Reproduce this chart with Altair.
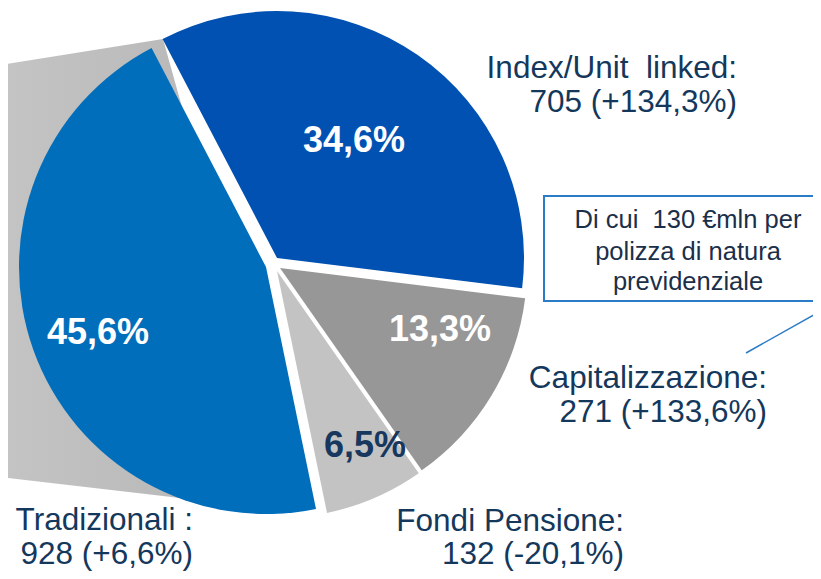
import altair as alt
import pandas as pd

# ---------------- data ----------------
categories = ["Index/Unit linked", "Capitalizzazione", "Fondi Pensione", "Tradizionali"]
values = [705, 271, 132, 928]
growth = ["+134,3%", "+133,6%", "-20,1%", "+6,6%"]
pct_labels = ["34,6%", "13,3%", "6,5%", "45,6%"]
name_labels = ["Index/Unit\u00a0 linked:", "Capitalizzazione:", "Fondi Pensione:", "Tradizionali :"]
slice_colors = ["#0051B2", "#979797", "#C3C3C3", "#006EBA"]
pct_colors = ["#FFFFFF", "#FFFFFF", "#17375E", "#FFFFFF"]
note_lines = ["Di cui\u00a0 130 \u20acmln per", "polizza di natura", "previdenziale"]

# ---------------- layout (pixels of the 821x579 picture) ----------------
W, H = 805, 563
CX, CY, R = 271, 264, 247
START = 332.4 * 3.141592653589793 / 180
explode_dx = [6, 9, 6, -5]
explode_dy = [-6, 4, 7, 3]
pct_x = [354, 440, 365, 98]
pct_y = [152, 341, 457, 344]
name_x = [737, 767, 624, 193]
name_y1 = [78, 388, 531, 530]
name_y2 = [112, 422, 564, 564]
shade_x = [0, 163, 295]
shade_top = [65, 39, 512]
shade_bot = [477, 496, 512]
note_box = dict(x=544, x2=835, y=196, y2=301)
note_cx = 688
note_y = [228, 260, 290]
conn = dict(x=746, y=353, x2=835, y2=303)

TEXT = "#14385C"
FONT = "Liberation Sans"

xs = alt.Scale(domain=[8, 8 + W], range=[0, W])
ys = alt.Scale(domain=[8, 8 + H], range=[0, H])

pie_df = pd.DataFrame({
    "order": list(range(len(categories))),
    "cat": categories,
    "value": values,
    "dx": explode_dx,
    "dy": explode_dy,
    "color": slice_colors,
})

slices = (
    alt.Chart(pie_df)
    .transform_joinaggregate(total="sum(value)")
    .transform_window(cum="sum(value)", sort=[alt.SortField("order")], frame=[None, 0])
    .transform_calculate(
        a1=f"{START} + 2*PI*datum.cum/datum.total",
    )
    .transform_calculate(
        a0="datum.a1 - 2*PI*datum.value/datum.total",
        cx=f"{CX} + datum.dx",
        cy=f"{CY} + datum.dy",
    )
    .mark_arc(outerRadius=R, stroke=None)
    .encode(
        theta=alt.Theta("a0:Q", scale=None),
        theta2=alt.Theta2("a1:Q"),
        x=alt.X("cx:Q", scale=xs, axis=None),
        y=alt.Y("cy:Q", scale=ys, axis=None),
        color=alt.Color("color:N", scale=None, legend=None),
    )
)

shade_df = pd.DataFrame({"x": shade_x, "top": shade_top, "bot": shade_bot})
shade = alt.Chart(shade_df).mark_area(
    color=alt.Gradient(
        gradient="linear",
        stops=[alt.GradientStop(color="#C4C4C4", offset=0),
               alt.GradientStop(color="#B3B3B3", offset=1)],
        x1=0, x2=1, y1=0, y2=0,
    ),
    interpolate="linear",
).encode(
    x=alt.X("x:Q", scale=xs, axis=None),
    y=alt.Y("top:Q", scale=ys, axis=None),
    y2="bot:Q",
)

pct_df = pd.DataFrame({"t": pct_labels, "x": pct_x, "y": pct_y, "c": pct_colors})
pct = alt.Chart(pct_df).mark_text(
    font=FONT, fontSize=36, fontWeight="bold", align="center", baseline="alphabetic"
).encode(
    x=alt.X("x:Q", scale=xs, axis=None),
    y=alt.Y("y:Q", scale=ys, axis=None),
    text="t:N",
    color=alt.Color("c:N", scale=None, legend=None),
)

line2 = [f"{v} ({g})" for v, g in zip(values, growth)]
name_df = pd.DataFrame({
    "t": name_labels + line2,
    "x": name_x + name_x,
    "y": name_y1 + name_y2,
})
names = alt.Chart(name_df).mark_text(
    font=FONT, fontSize=31.5, align="right", baseline="alphabetic", color=TEXT
).encode(
    x=alt.X("x:Q", scale=xs, axis=None),
    y=alt.Y("y:Q", scale=ys, axis=None),
    text="t:N",
)

box = alt.Chart(pd.DataFrame([note_box])).mark_rect(
    fill=None, filled=False, stroke="#2A7CC6", strokeWidth=2
).encode(
    x=alt.X("x:Q", scale=xs, axis=None), x2="x2:Q",
    y=alt.Y("y:Q", scale=ys, axis=None), y2="y2:Q",
)

note_df = pd.DataFrame({"t": note_lines, "x": [note_cx] * 3, "y": note_y})
note = alt.Chart(note_df).mark_text(
    font=FONT, fontSize=25.5, align="center", baseline="alphabetic", color="#1B2F4A"
).encode(
    x=alt.X("x:Q", scale=xs, axis=None),
    y=alt.Y("y:Q", scale=ys, axis=None),
    text="t:N",
)

connector = alt.Chart(pd.DataFrame([conn])).mark_rule(
    color="#2A7CC6", strokeWidth=1.5
).encode(
    x=alt.X("x:Q", scale=xs, axis=None), x2="x2:Q",
    y=alt.Y("y:Q", scale=ys, axis=None), y2="y2:Q",
)

chart = (
    alt.layer(shade, slices, pct, names, box, note, connector)
    .properties(width=W, height=H, padding=0, autosize=alt.AutoSizeParams(type="none"))
    .configure_view(stroke=None)
)

chart.save("out.html", embed_options={"renderer": "svg", "actions": False})
